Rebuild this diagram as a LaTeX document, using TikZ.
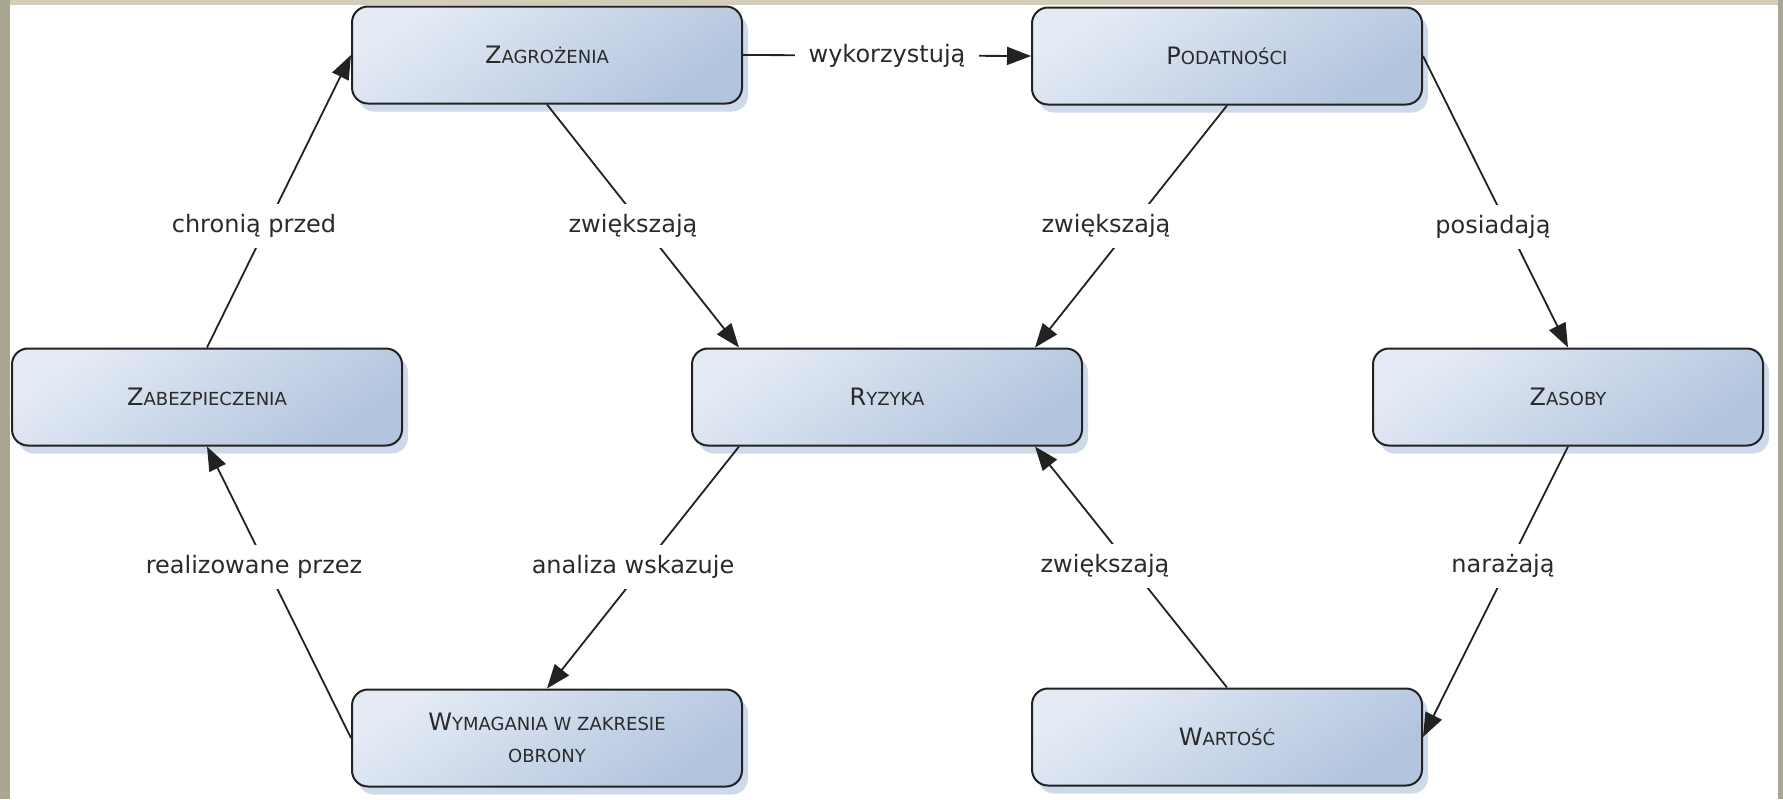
\documentclass[tikz,border=0pt]{standalone}
\usepackage{fontspec}
\setmainfont{DejaVu Sans}
\usetikzlibrary{arrows.meta,shadows}
\definecolor{nodeL}{HTML}{E4EBF5}
\definecolor{nodeR}{HTML}{B2C4DE}
\definecolor{edgeC}{HTML}{222222}
\definecolor{txtC}{HTML}{2A2A2A}
\definecolor{bandL}{HTML}{A9A692}
\definecolor{bandT}{HTML}{D2CEBB}
\definecolor{shadowC}{HTML}{C6D3E6}
\newcommand\capsc[2]{{\fontsize{12}{14}\selectfont #1}{\fontsize{9}{11}\selectfont #2}}
\begin{document}
\begin{tikzpicture}[x=0.5pt,y=-0.5pt,
  concept/.style={rectangle, rounded corners=8pt, draw=edgeC, line width=1pt,
    top color=nodeL, bottom color=nodeR, shading angle=35,
    minimum width=195pt, minimum height=48.5pt,
    text=txtC, align=center, font=\fontsize{9}{16}\selectfont,
    drop shadow={shadow xshift=3pt, shadow yshift=-4pt, fill=shadowC, opacity=0.85}},
  link/.style={draw=edgeC, line width=0.9pt, -{Triangle[length=12pt,width=9pt]}},
  lbl/.style={fill=white, text=txtC, font=\fontsize{12}{14}\selectfont, inner xsep=7pt, inner ysep=5pt}]
\fill[white] (0,0) rectangle (1783,799);
\fill[bandT] (0,0) rectangle (1783,5);
\fill[bandL] (0,0) rectangle (10,799);
\fill[bandL] (1778,0) rectangle (1783,799);
\useasboundingbox (0,0) rectangle (1783,799);

\node[concept] (zag) at (547,55) {\capsc{Z}{AGROŻENIA}};
\node[concept] (pod) at (1227,56) {\capsc{P}{ODATNOŚCI}};
\node[concept] (zab) at (207,397) {\capsc{Z}{ABEZPIECZENIA}};
\node[concept] (ryz) at (887,397) {\capsc{R}{YZYKA}};
\node[concept] (zas) at (1568,397) {\capsc{Z}{ASOBY}};
\node[concept] (wym) at (547,738) {\capsc{W}{YMAGANIA W ZAKRESIE}\\\capsc{}{OBRONY}};
\node[concept] (war) at (1227,737) {\capsc{W}{ARTOŚĆ}};

\draw[link] (zag.east) -- node[lbl] {wykorzystują} (pod.west);
\draw[link] (zag.south) -- ([xshift=24pt]ryz.north west) node[lbl] at (633,226) {zwiększają};
\draw[link] (pod.south) -- ([xshift=-24pt]ryz.north east) node[lbl] at (1106,226) {zwiększają};
\draw[link] (pod.east) -- (zas.north) node[lbl] at (1493,227) {posiadają};
\draw[link] (zas.south) -- (war.east) node[lbl] at (1503,566) {narażają};
\draw[link] (war.north) -- ([xshift=-24pt]ryz.south east) node[lbl] at (1105,566) {zwiększają};
\draw[link] ([xshift=24pt]ryz.south west) -- (wym.north) node[lbl] at (633,567) {analiza wskazuje};
\draw[link] (wym.west) -- (zab.south) node[lbl] at (254,567) {realizowane przez};
\draw[link] (zab.north) -- (zag.west) node[lbl] at (254,226) {chronią przed};
\end{tikzpicture}
\end{document}
